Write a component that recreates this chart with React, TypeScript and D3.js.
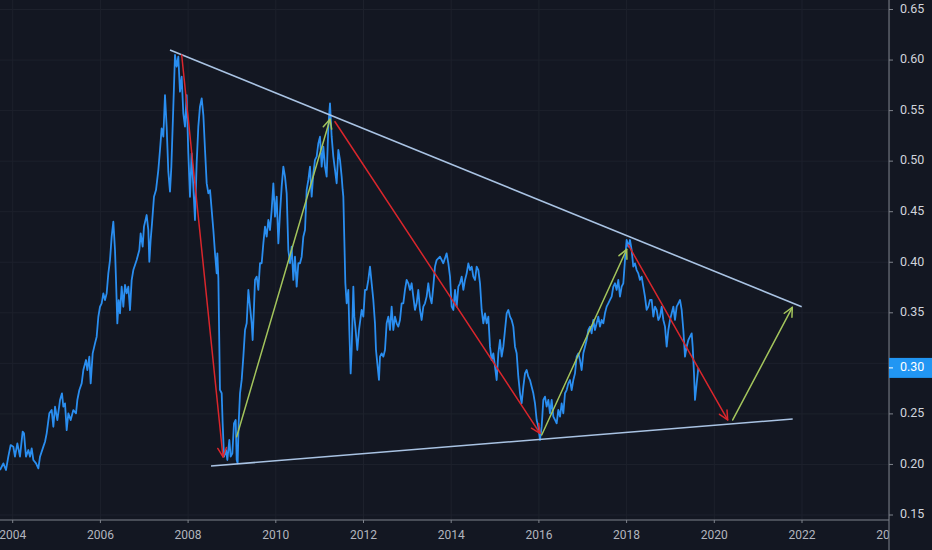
import React, { useMemo } from "react";
import { scaleLinear, line, range } from "d3";

// weekly-ish closes (decimal year, price)
const priceYears = [
  2003.71, 2003.787, 2003.847, 2003.9, 2003.954, 2004.014, 2004.052, 2004.106, 2004.166, 2004.227,
  2004.258, 2004.303, 2004.357, 2004.395, 2004.433, 2004.471, 2004.532, 2004.585, 2004.623, 2004.699,
  2004.737, 2004.775, 2004.835, 2004.889, 2004.927, 2004.965, 2005.018, 2005.079, 2005.124, 2005.155,
  2005.193, 2005.231, 2005.269, 2005.322, 2005.383, 2005.444, 2005.474, 2005.52, 2005.573, 2005.611,
  2005.672, 2005.702, 2005.748, 2005.778, 2005.824, 2005.877, 2005.915, 2005.953, 2005.991, 2006.029,
  2006.067, 2006.105, 2006.143, 2006.181, 2006.219, 2006.257, 2006.295, 2006.333, 2006.356, 2006.386,
  2006.417, 2006.447, 2006.485, 2006.523, 2006.561, 2006.599, 2006.637, 2006.675, 2006.713, 2006.751,
  2006.827, 2006.888, 2006.918, 2006.964, 2006.994, 2007.055, 2007.093, 2007.116, 2007.146, 2007.177,
  2007.222, 2007.268, 2007.321, 2007.359, 2007.397, 2007.435, 2007.473, 2007.511, 2007.549, 2007.587,
  2007.618, 2007.663, 2007.701, 2007.739, 2007.777, 2007.815, 2007.853, 2007.891, 2007.929, 2007.967,
  2008.005, 2008.043, 2008.081, 2008.119, 2008.157, 2008.195, 2008.233, 2008.271, 2008.31, 2008.348,
  2008.386, 2008.424, 2008.462, 2008.5, 2008.576, 2008.614, 2008.652, 2008.667, 2008.69,
  2008.727, 2008.766, 2008.788, 2008.819, 2008.864, 2008.895, 2008.94, 2008.971, 2009.009, 2009.047,
  2009.085, 2009.108, 2009.13, 2009.153, 2009.184, 2009.222, 2009.26, 2009.298, 2009.336, 2009.374,
  2009.412, 2009.45, 2009.472, 2009.503, 2009.526, 2009.564, 2009.602, 2009.64, 2009.678, 2009.716,
  2009.754, 2009.792, 2009.83, 2009.868, 2009.906, 2009.944, 2009.982, 2010.02, 2010.058, 2010.096,
  2010.134, 2010.172, 2010.21, 2010.248, 2010.286, 2010.324, 2010.362, 2010.4, 2010.438, 2010.476,
  2010.514, 2010.552, 2010.59, 2010.628, 2010.666, 2010.704, 2010.742, 2010.78, 2010.818, 2010.856,
  2010.894, 2010.932, 2010.97, 2011.008, 2011.046, 2011.084, 2011.122, 2011.16, 2011.198, 2011.236,
  2011.274, 2011.312, 2011.35, 2011.388, 2011.426, 2011.464, 2011.502, 2011.525, 2011.54, 2011.563,
  2011.586, 2011.616, 2011.654, 2011.677, 2011.707, 2011.73, 2011.768, 2011.791, 2011.821, 2011.859,
  2011.897, 2011.958, 2011.996, 2012.034, 2012.072, 2012.11, 2012.148, 2012.186, 2012.224, 2012.262,
  2012.285, 2012.315, 2012.353, 2012.376, 2012.414, 2012.452, 2012.49, 2012.528, 2012.566, 2012.604,
  2012.642, 2012.68, 2012.718, 2012.756, 2012.794, 2012.832, 2012.87, 2012.908, 2012.946, 2012.984,
  2013.022, 2013.06, 2013.098, 2013.136, 2013.174, 2013.212, 2013.25, 2013.288, 2013.326, 2013.364,
  2013.402, 2013.44, 2013.478, 2013.516, 2013.554, 2013.592, 2013.63, 2013.668, 2013.744, 2013.82,
  2013.896, 2013.935, 2013.973, 2014.011, 2014.049, 2014.087, 2014.125, 2014.163, 2014.201, 2014.239,
  2014.277, 2014.315, 2014.353, 2014.391, 2014.429, 2014.467, 2014.505, 2014.543, 2014.581, 2014.619,
  2014.657, 2014.695, 2014.733, 2014.771, 2014.809, 2014.847, 2014.885, 2014.923, 2014.961, 2014.999,
  2015.037, 2015.075, 2015.113, 2015.151, 2015.189, 2015.227, 2015.265, 2015.303, 2015.341, 2015.379,
  2015.417, 2015.455, 2015.493, 2015.531, 2015.569, 2015.607, 2015.645, 2015.683, 2015.721, 2015.759,
  2015.797, 2015.835, 2015.873, 2015.911, 2015.949, 2015.987, 2016.025, 2016.063, 2016.101, 2016.139,
  2016.177, 2016.215, 2016.253, 2016.291, 2016.329, 2016.367, 2016.405, 2016.443, 2016.481, 2016.519,
  2016.557, 2016.595, 2016.633, 2016.671, 2016.709, 2016.747, 2016.785, 2016.823, 2016.861, 2016.899,
  2016.937, 2016.975, 2017.013, 2017.051, 2017.089, 2017.127, 2017.165, 2017.203, 2017.241, 2017.279,
  2017.317, 2017.355, 2017.393, 2017.431, 2017.469, 2017.507, 2017.545, 2017.583, 2017.621, 2017.659,
  2017.697, 2017.735, 2017.773, 2017.811, 2017.849, 2017.887, 2017.925, 2017.963, 2018.001, 2018.039,
  2018.077, 2018.115, 2018.153, 2018.191, 2018.229, 2018.267, 2018.305, 2018.343, 2018.381, 2018.419,
  2018.457, 2018.495, 2018.533, 2018.572, 2018.61, 2018.648, 2018.686, 2018.724, 2018.762, 2018.8,
  2018.838, 2018.876, 2018.914, 2018.952, 2018.99, 2019.028, 2019.066, 2019.104, 2019.142, 2019.18,
  2019.218, 2019.256, 2019.294, 2019.332, 2019.37, 2019.408, 2019.446, 2019.484, 2019.507, 2019.537,
  2019.56, 2019.598, 2019.636,
];

const priceValues = [
  0.1945, 0.2011, 0.1945, 0.2077, 0.2192, 0.2176, 0.2077, 0.2209, 0.2077, 0.2324,
  0.2308, 0.2077, 0.2143, 0.2077, 0.2159, 0.2044, 0.2011, 0.1961, 0.2077, 0.2176,
  0.2225, 0.2308, 0.2505, 0.2538, 0.2373, 0.2571, 0.2439, 0.2637, 0.2703, 0.2571,
  0.2604, 0.234, 0.2505, 0.2439, 0.2538, 0.2505, 0.2637, 0.2736, 0.2802, 0.2934,
  0.3033, 0.2934, 0.3066, 0.2802, 0.3099, 0.3198, 0.3264, 0.3461, 0.356, 0.3593,
  0.3692, 0.3626, 0.3692, 0.389, 0.4022, 0.4253, 0.4401, 0.4121, 0.3824, 0.3395,
  0.3626, 0.3494, 0.3758, 0.356, 0.3775, 0.3692, 0.3758, 0.3527, 0.3824, 0.3923,
  0.4022, 0.4121, 0.4286, 0.4154, 0.4352, 0.4467, 0.4319, 0.4005, 0.422, 0.4385,
  0.4648, 0.4714, 0.4912, 0.511, 0.5324, 0.5242, 0.5654, 0.5341, 0.4896, 0.4698,
  0.4945, 0.5539, 0.605, 0.5934, 0.6033, 0.5687, 0.5835, 0.5473, 0.5341, 0.5654,
  0.5077, 0.4648, 0.5077, 0.4747, 0.4418, 0.4978, 0.5341, 0.5539, 0.5621, 0.5456,
  0.511, 0.478, 0.4681, 0.4714, 0.4319, 0.4088, 0.389, 0.4088, 0.3841,
  0.2737, 0.2704, 0.2407, 0.2077, 0.2143, 0.2044, 0.2242, 0.2077, 0.211, 0.2407,
  0.244, 0.2044, 0.2011, 0.2407, 0.2704, 0.2836, 0.3066, 0.333, 0.3396, 0.3726,
  0.3561, 0.3396, 0.3231, 0.3561, 0.3825, 0.3858, 0.3726, 0.399, 0.399, 0.4187,
  0.4352, 0.4253, 0.4418, 0.4319, 0.4517, 0.4781, 0.4451, 0.4649, 0.4187, 0.4484,
  0.4748, 0.4946, 0.4847, 0.4682, 0.4121, 0.399, 0.4154, 0.3825, 0.4055, 0.3759,
  0.399, 0.399, 0.4055, 0.4253, 0.4319, 0.4715, 0.4814, 0.4946, 0.4649, 0.488,
  0.5012, 0.5045, 0.5176, 0.5242, 0.4946, 0.5143, 0.4946, 0.4847, 0.5341, 0.5572,
  0.5242, 0.5045, 0.4913, 0.4781, 0.5111, 0.5012, 0.4847, 0.4715, 0.4649, 0.422,
  0.3792, 0.3594, 0.3726, 0.333, 0.2901, 0.3132, 0.3759, 0.3462, 0.333, 0.3132,
  0.333, 0.3528, 0.3462, 0.3726, 0.3726, 0.3825, 0.3957, 0.3792, 0.3627, 0.3396,
  0.3132, 0.3, 0.2836, 0.3066, 0.3099, 0.3066, 0.3132, 0.3396, 0.3462, 0.333,
  0.3561, 0.333, 0.3462, 0.3396, 0.3363, 0.3429, 0.3594, 0.3594, 0.3726, 0.3825,
  0.3792, 0.3726, 0.3792, 0.366, 0.3528, 0.3594, 0.3726, 0.3528, 0.3429, 0.3561,
  0.3594, 0.366, 0.3792, 0.366, 0.3594, 0.3759, 0.3957, 0.4022, 0.4055, 0.399,
  0.4088, 0.3989, 0.3858, 0.3561, 0.3528, 0.3726, 0.3561, 0.3759, 0.3792, 0.3858,
  0.3726, 0.3825, 0.389, 0.3989, 0.3923, 0.3956, 0.3858, 0.3825, 0.3956, 0.3923,
  0.3792, 0.3528, 0.3396, 0.3495, 0.3396, 0.3462, 0.3165, 0.3033, 0.3099, 0.2967,
  0.2835, 0.3099, 0.3231, 0.3066, 0.3165, 0.333, 0.3495, 0.3528, 0.3462, 0.3429,
  0.3363, 0.3165, 0.3099, 0.2868, 0.2704, 0.2605, 0.2769, 0.2901, 0.2934, 0.2868,
  0.2835, 0.2769, 0.2704, 0.2605, 0.244, 0.2374, 0.2242, 0.2374, 0.2638, 0.2671,
  0.2572, 0.2638, 0.2506, 0.2638, 0.2473, 0.244, 0.2407, 0.2539, 0.2473, 0.2605,
  0.2506, 0.2704, 0.2736, 0.2802, 0.2835, 0.2736, 0.2835, 0.2901, 0.3066, 0.3099,
  0.3033, 0.2934, 0.3099, 0.3165, 0.3231, 0.333, 0.3363, 0.3297, 0.3429, 0.333,
  0.3396, 0.3462, 0.3363, 0.3429, 0.3396, 0.3495, 0.3561, 0.3594, 0.3627, 0.366,
  0.3759, 0.3792, 0.3726, 0.3825, 0.366, 0.3759, 0.3792, 0.4022, 0.422, 0.4154,
  0.422, 0.4121, 0.3956, 0.3989, 0.3923, 0.389, 0.3825, 0.3858, 0.3759, 0.366,
  0.3528, 0.3561, 0.3627, 0.3627, 0.3462, 0.3561, 0.3528, 0.3429, 0.3462, 0.3561,
  0.3429, 0.3363, 0.3165, 0.333, 0.3429, 0.3495, 0.3561, 0.3429, 0.3561, 0.3594,
  0.3627, 0.3528, 0.333, 0.3066, 0.3165, 0.3231, 0.3264, 0.3297, 0.3165, 0.2901,
  0.2638, 0.2802, 0.2955,
];

const yearTicks = [2004, 2006, 2008, 2010, 2012, 2014, 2016, 2018, 2020, 2022, 2024];
const priceTicks = [0.15, 0.2, 0.25, 0.3, 0.35, 0.4, 0.45, 0.5, 0.55, 0.6, 0.65];
const lastPriceLabel = "0.30";

// triangle borders: [startYear, startValue, endYear, endValue]
const trendLines = [
  [2007.587, 0.61, 2021.993, 0.356],
  [2008.522, 0.1985, 2021.788, 0.245],
];

const redArrows = [
  [2007.854, 0.605, 2008.796, 0.2074],
  [2011.35, 0.539, 2016.025, 0.2308],
  [2018.039, 0.4171, 2020.305, 0.244],
];

const greenArrows = [
  [2009.108, 0.2274, 2011.236, 0.5414],
  [2016.064, 0.2291, 2018.002, 0.4128],
  [2020.42, 0.244, 2021.779, 0.3554],
];

const W = 932;
const H = 550;
const AXIS_X = 889;
const AXIS_Y = 520;
const BG = "#131722";
const FONT = "Roboto, 'Liberation Sans', sans-serif";

const arrowHead = (x1: number, y1: number, x2: number, y2: number) => {
  const a = Math.atan2(y2 - y1, x2 - x1);
  const len = 10;
  const spread = 0.45;
  const p1 = [x2 - len * Math.cos(a - spread), y2 - len * Math.sin(a - spread)];
  const p2 = [x2 - len * Math.cos(a + spread), y2 - len * Math.sin(a + spread)];
  return `M${p1[0]},${p1[1]}L${x2},${y2}L${p2[0]},${p2[1]}`;
};

const App: React.FC = () => {
  const x = useMemo(() => scaleLinear().domain([2004, 2022]).range([12.7, 802]), []);
  const y = useMemo(() => scaleLinear().domain([0.15, 0.65]).range([515, 9.5]), []);

  const pricePath = useMemo(() => {
    const pts = range(priceYears.length).map((i) => [priceYears[i], priceValues[i]] as [number, number]);
    return line<[number, number]>()
      .x((d) => x(d[0]))
      .y((d) => y(d[1]))(pts) as string;
  }, [x, y]);

  const lastY = y(priceValues[priceValues.length - 1]);

  const drawArrows = (list: number[][], color: string) =>
    list.map(([a, b, c, d], i) => {
      const x1 = x(a), y1 = y(b), x2 = x(c), y2 = y(d);
      return (
        <g key={color + i} stroke={color} strokeWidth={1.5} fill="none" strokeLinecap="round">
          <line x1={x1} y1={y1} x2={x2} y2={y2} />
          <path d={arrowHead(x1, y1, x2, y2)} strokeLinejoin="round" />
        </g>
      );
    });

  return (
    <svg
      width={W}
      height={H}
      style={{ position: "absolute", left: 0, top: 0, display: "block" }}
      fontFamily={FONT}
    >
      <defs>
        <clipPath id="plot">
          <rect x={0} y={0} width={AXIS_X} height={AXIS_Y} />
        </clipPath>
        <clipPath id="xlabels">
          <rect x={0} y={AXIS_Y} width={AXIS_X} height={H - AXIS_Y} />
        </clipPath>
      </defs>
      <rect width={W} height={H} fill={BG} />

      {/* grid */}
      <g stroke="#1d212c" strokeWidth={1}>
        {priceTicks.map((t) => (
          <line key={"h" + t} x1={0} x2={AXIS_X} y1={y(t)} y2={y(t)} />
        ))}
        {yearTicks.map((t) => (
          <line key={"v" + t} x1={x(t)} x2={x(t)} y1={0} y2={AXIS_Y} />
        ))}
      </g>

      <g clipPath="url(#plot)">
        <path d={pricePath} fill="none" stroke="#2a8ef0" strokeWidth={1.8} strokeLinejoin="round" />

        {trendLines.map(([a, b, c, d], i) => (
          <line
            key={"t" + i}
            x1={x(a)}
            y1={y(b)}
            x2={x(c)}
            y2={y(d)}
            stroke="#a9c3e3"
            strokeWidth={1.6}
          />
        ))}

        {drawArrows(redArrows, "#d9262c")}
        {drawArrows(greenArrows, "#a3c45c")}
      </g>

      {/* bottom axis */}
      <line x1={0} x2={AXIS_X} y1={AXIS_Y} y2={AXIS_Y} stroke="#7f838c" strokeWidth={1} />
      <g clipPath="url(#xlabels)">
        {yearTicks.map((t) => (
          <g key={"xt" + t}>
            <line x1={x(t)} x2={x(t)} y1={AXIS_Y} y2={AXIS_Y + 3} stroke="#7f838c" />
            <text
              x={x(t)}
              y={AXIS_Y + 16}
              textAnchor="middle"
              dominantBaseline="middle"
              fontSize={12}
              fill="#b2b5be"
            >
              {t}
            </text>
          </g>
        ))}
      </g>

      {/* price axis; the tick hidden by the last-price marker is left out */}
      <line x1={AXIS_X} x2={AXIS_X} y1={0} y2={H} stroke="#7f838c" strokeWidth={1} />
      {priceTicks
        .filter((t) => Math.abs(y(t) - lastY) > 14)
        .map((t) => (
          <g key={"yt" + t}>
            <line x1={AXIS_X} x2={AXIS_X + 4} y1={y(t)} y2={y(t)} stroke="#7f838c" />
            <text
              x={AXIS_X + 11}
              y={y(t)}
              dominantBaseline="middle"
              fontSize={12.5}
              fill="#d1d4dc"
            >
              {t.toFixed(2)}
            </text>
          </g>
        ))}

      {/* last price marker */}
      <rect x={AXIS_X} y={lastY - 10} width={W - AXIS_X} height={20} fill="#2196f3" />
      <line x1={AXIS_X} x2={AXIS_X + 4} y1={lastY} y2={lastY} stroke="#ffffff" />
      <text x={AXIS_X + 11} y={lastY} dominantBaseline="middle" fontSize={12.5} fill="#ffffff">
        {lastPriceLabel}
      </text>
    </svg>
  );
};

export default App;
